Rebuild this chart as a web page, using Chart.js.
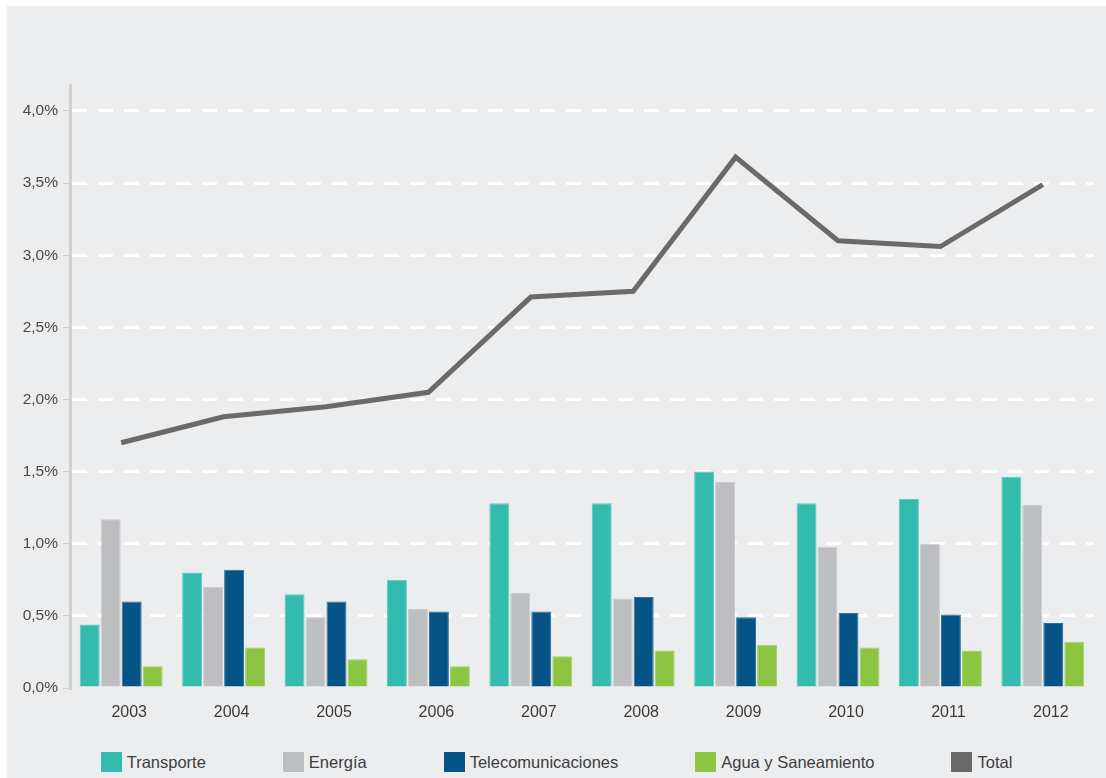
<!DOCTYPE html>
<html>
<head>
<meta charset="utf-8">
<script src="https://cdn.jsdelivr.net/npm/chart.js@4/dist/chart.umd.min.js"></script>
<style>
  html, body { margin: 0; padding: 0; background: #ffffff; }
  #panel {
    position: absolute; left: 7px; top: 6px;
    width: 1099px; height: 772px;
    background: #ecedef;
    font-family: "Liberation Sans", Arial, sans-serif;
  }
  #chartBox { position: relative; width: 1099px; height: 722px; }
  #legend {
    display: flex; justify-content: center; gap: 77px;
    margin-top: 24px; font-size: 16.5px; color: #3d3d3d;
  }
  .item { display: flex; align-items: center; }
  .box { width: 21px; height: 20px; margin-right: 5px; }
</style>
</head>
<body>
<div id="panel">
  <div id="chartBox"><canvas id="myChart"></canvas></div>
  <div id="legend"></div>
</div>
<script>
const years = ["2003", "2004", "2005", "2006", "2007", "2008", "2009", "2010", "2011", "2012"];

const transporte = [0.44, 0.80, 0.65, 0.75, 1.28, 1.28, 1.50, 1.28, 1.31, 1.465];
const energia = [1.17, 0.70, 0.49, 0.55, 0.66, 0.62, 1.43, 0.98, 1.00, 1.27];
const telecom = [0.60, 0.82, 0.60, 0.53, 0.53, 0.63, 0.49, 0.52, 0.51, 0.45];
const agua = [0.15, 0.28, 0.20, 0.15, 0.22, 0.26, 0.30, 0.28, 0.26, 0.32];
const total = [1.70, 1.88, 1.95, 2.05, 2.71, 2.75, 3.68, 3.10, 3.06, 3.49];

const yTicks = [0, 0.5, 1, 1.5, 2, 2.5, 3, 3.5, 4];

const ctx = document.getElementById("myChart").getContext("2d");

Chart.defaults.font.family = '"Liberation Sans", Arial, sans-serif';

const data = {
  labels: years,
  datasets: [
    {
      type: "line",
      label: "Total",
      data: total,
      borderColor: "#6a6a6a",
      backgroundColor: "#6a6a6a",
      borderWidth: 5,
      pointRadius: 0,
      fill: false,
      order: 0,
    },
    {
      label: "Transporte",
      data: transporte,
      backgroundColor: "#33bbad",
      borderColor: "#5ccabe",
      borderWidth: 1,
      order: 1,
    },
    {
      label: "Energía",
      data: energia,
      backgroundColor: "#bdbec0",
      borderColor: "#cacbcd",
      borderWidth: 1,
      order: 1,
    },
    {
      label: "Telecomunicaciones",
      data: telecom,
      backgroundColor: "#065485",
      borderColor: "#2b6e98",
      borderWidth: 1,
      order: 1,
    },
    {
      label: "Agua y Saneamiento",
      data: agua,
      backgroundColor: "#8cc541",
      borderColor: "#a2d163",
      borderWidth: 1,
      order: 1,
    },
  ],
};

const config = {
  type: "bar",
  data: data,
  options: {
    responsive: true,
    maintainAspectRatio: false,
    animation: false,
    layout: { padding: { top: 79, right: 12, left: 0, bottom: 0 } },
    datasets: {
      bar: { barPercentage: 0.95, categoryPercentage: 0.82 },
    },
    plugins: {
      legend: { display: false },
      tooltip: { enabled: false },
    },
    scales: {
      x: {
        grid: { display: false },
        border: { display: false },
        ticks: {
          color: "#3a3a3a",
          font: { size: 16 },
          padding: 7,
          labelOffset: 8,
        },
        afterFit: (scale) => { scale.height = 40; },
      },
      y: {
        min: 0,
        max: 4.18,
        afterBuildTicks: (scale) => {
          scale.ticks = yTicks.map((v) => ({ value: v }));
        },
        afterFit: (scale) => { scale.width = 63; },
        border: { display: true, color: "#d0d0d0", width: 3, dash: [15, 11] },
        grid: {
          color: (c) => (c.tick && c.tick.value === 0 ? "rgba(0,0,0,0)" : "#ffffff"),
          lineWidth: 3,
          drawTicks: true,
          tickLength: 7,
          tickColor: "#cfcfcf",
          tickWidth: 1,
          tickBorderDash: [],
        },
        ticks: {
          color: "#4a4a4a",
          font: { size: 15.5 },
          padding: 5,
          callback: (v) => v.toFixed(1).replace(".", ",") + "%",
        },
      },
    },
  },
};

const myChart = new Chart(ctx, config);

// legend in html, order as in the original
const legendOrder = ["Transporte", "Energía", "Telecomunicaciones", "Agua y Saneamiento", "Total"];
const legendEl = document.getElementById("legend");
legendOrder.forEach((name) => {
  const ds = data.datasets.find((d) => d.label === name);
  const item = document.createElement("div");
  item.className = "item";
  const box = document.createElement("span");
  box.className = "box";
  box.style.background = ds.backgroundColor;
  const txt = document.createElement("span");
  txt.textContent = name;
  item.appendChild(box);
  item.appendChild(txt);
  legendEl.appendChild(item);
});
</script>
</body>
</html>
